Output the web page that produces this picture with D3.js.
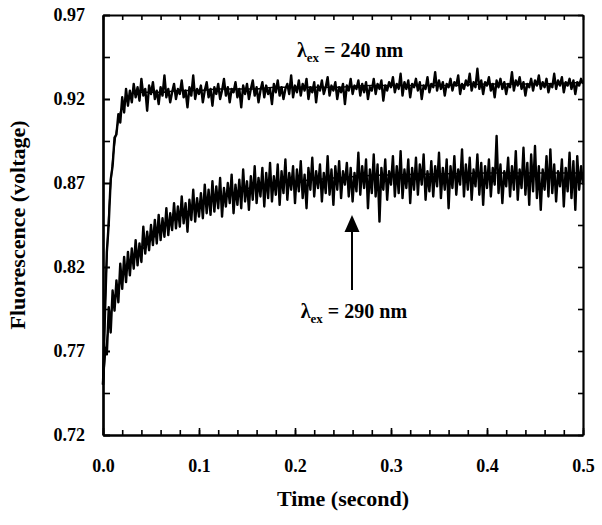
<!DOCTYPE html>
<html>
<head>
<meta charset="utf-8">
<script src="https://cdn.jsdelivr.net/npm/d3@7"></script>
<style>
  body { margin: 0; background: #fff; }
  svg { display: block; font-family: "Times New Roman", "Liberation Serif", serif; font-weight: bold; }
</style>
</head>
<body>
<script>
// sampling interval of the recorded traces (seconds)
const sampleStep = 0.002;

// λex = 240 nm trace, one value per sample
const trace240 = [
  .750,.791,.829,.846,.872,.880,.897,.899,.911,.906,
  .921,.912,.926,.916,.925,.918,.929,.921,.927,.919,
  .932,.922,.926,.913,.928,.923,.930,.920,.925,.917,
  .927,.922,.934,.921,.926,.918,.924,.929,.920,.926,
  .923,.931,.921,.925,.915,.927,.922,.934,.920,.926,
  .923,.928,.918,.925,.930,.921,.926,.916,.927,.923,
  .929,.920,.925,.932,.922,.927,.918,.926,.924,.930,
  .921,.926,.915,.928,.923,.929,.920,.926,.931,.922,
  .927,.918,.925,.930,.921,.928,.923,.926,.917,.929,
  .924,.931,.922,.927,.920,.926,.929,.923,.934,.921,
  .928,.924,.931,.922,.929,.925,.932,.920,.927,.924,
  .930,.918,.928,.925,.931,.923,.927,.933,.922,.928,
  .925,.930,.920,.927,.924,.929,.917,.928,.925,.932,
  .923,.928,.926,.931,.922,.929,.924,.930,.920,.927,
  .925,.932,.923,.929,.926,.931,.919,.928,.925,.930,
  .927,.933,.924,.929,.926,.935,.922,.930,.926,.931,
  .921,.929,.927,.932,.925,.930,.920,.928,.926,.933,
  .924,.929,.927,.936,.925,.931,.926,.930,.922,.929,
  .927,.932,.925,.930,.928,.934,.923,.929,.926,.931,
  .928,.935,.925,.930,.927,.938,.926,.931,.923,.930,
  .928,.933,.925,.929,.921,.931,.927,.932,.926,.930,
  .923,.929,.927,.936,.925,.931,.928,.933,.926,.930,
  .922,.929,.927,.932,.925,.931,.928,.934,.926,.930,
  .927,.932,.924,.929,.927,.935,.926,.931,.928,.933,
  .924,.930,.928,.932,.926,.931,.923,.930,.928,.932,
  .929
];

// λex = 290 nm trace, one value per sample
const trace290 = [
  .750,.772,.768,.796,.781,.806,.794,.812,.799,.822,
  .807,.826,.811,.829,.815,.831,.819,.836,.821,.834,
  .823,.844,.828,.841,.830,.845,.833,.848,.834,.851,
  .836,.849,.838,.855,.839,.852,.842,.858,.843,.856,
  .844,.862,.846,.858,.841,.860,.848,.866,.847,.861,
  .850,.864,.849,.869,.852,.866,.851,.871,.853,.868,
  .855,.873,.850,.867,.856,.870,.858,.875,.852,.869,
  .857,.872,.855,.878,.859,.871,.854,.874,.860,.880,
  .858,.873,.862,.879,.856,.876,.861,.882,.859,.874,
  .863,.881,.857,.877,.864,.884,.860,.876,.866,.880,
  .858,.878,.865,.883,.861,.875,.855,.879,.866,.885,
  .862,.877,.867,.881,.859,.876,.864,.886,.863,.878,
  .857,.880,.866,.883,.861,.877,.869,.882,.862,.879,
  .859,.876,.865,.888,.863,.880,.867,.884,.855,.878,
  .864,.887,.862,.881,.847,.879,.866,.884,.860,.877,
  .869,.886,.862,.880,.864,.889,.861,.878,.867,.884,
  .858,.879,.866,.885,.863,.881,.869,.887,.860,.877,
  .865,.883,.862,.880,.868,.888,.861,.879,.866,.884,
  .855,.880,.867,.886,.863,.878,.869,.890,.862,.881,
  .866,.885,.860,.878,.868,.887,.863,.882,.857,.880,
  .867,.884,.862,.879,.869,.898,.864,.881,.858,.877,
  .868,.885,.862,.880,.866,.889,.860,.878,.867,.891,
  .863,.882,.857,.887,.865,.892,.861,.880,.854,.878,
  .866,.886,.862,.890,.864,.881,.859,.877,.868,.884,
  .856,.879,.865,.888,.861,.883,.854,.886,.866,.880,
  .869
];

// fitted curves
const fitTimes = [0, .002, .004, .006, .008, .010, .012, .014, .016, .018, .020, .024, .028, .032,
  .04, .05, .06, .08, .10, .12, .14, .16, .18, .20, .24, .28, .32, .36, .40, .45, .50];
const fit240 = [.750, .794, .826, .851, .869, .883, .893, .901, .907, .912, .915, .919, .922, .924,
  .924, .924, .924, .925, .925, .926, .926, .926, .927, .927, .927, .928, .928, .928, .929, .929, .930];
const fit290 = [.750, .765, .776, .785, .792, .797, .802, .805, .808, .811, .814, .818, .822, .825,
  .830, .836, .842, .850, .857, .861, .865, .868, .870, .871, .873, .8745, .875, .8755, .876, .876, .876];

// axis ticks
const xMajorTicks = [0, 0.1, 0.2, 0.3, 0.4, 0.5];
const xMinorTicks = d3.range(0, 0.5001, 0.02);
const yMajorTicks = [0.72, 0.77, 0.82, 0.87, 0.92, 0.97];
const yMinorTicks = [0.72, 0.745, 0.77, 0.795, 0.82, 0.845, 0.87, 0.895, 0.92, 0.945, 0.97];

// annotations: [time, value]
const label240 = [0.202, 0.945];
const label290 = [0.206, 0.7896];
const arrowFrom = [0.2594, 0.8063];
const arrowTo = [0.2594, 0.851];

const width = 602, height = 525;
const margin = {top: 15, right: 19, bottom: 90, left: 103};

const svg = d3.select('body').append('svg')
  .attr('width', width)
  .attr('height', height);

const x = d3.scaleLinear().domain([0, 0.5]).range([margin.left, width - margin.right]);
const y = d3.scaleLinear().domain([0.72, 0.97]).range([height - margin.bottom, margin.top]);

function styleAxis(g) {
  g.select('.domain').attr('stroke', '#000').attr('stroke-width', 2.2);
  g.selectAll('.tick line').attr('stroke', '#000').attr('stroke-width', 1.6);
  g.selectAll('.tick text').attr('font-size', 18).attr('font-weight', 'bold').attr('fill', '#000')
    .attr('font-family', '"Times New Roman", "Liberation Serif", serif');
}

// minor ticks first, majors with labels on top
svg.append('g')
  .attr('transform', `translate(0,${y.range()[0]})`)
  .call(d3.axisBottom(x).tickValues(xMinorTicks).tickSizeInner(-5).tickSizeOuter(0).tickFormat(''))
  .call(styleAxis);
svg.append('g')
  .attr('transform', `translate(0,${y.range()[0]})`)
  .call(d3.axisBottom(x).tickValues(xMajorTicks).tickSizeInner(-7).tickSizeOuter(0)
    .tickPadding(24).tickFormat(d3.format('.1f')))
  .call(styleAxis);

svg.append('g')
  .attr('transform', `translate(0,${margin.top})`)
  .call(d3.axisTop(x).tickValues(xMinorTicks).tickSizeInner(-5).tickSizeOuter(0).tickFormat(''))
  .call(styleAxis);

svg.append('g')
  .attr('transform', `translate(${margin.left},0)`)
  .call(d3.axisLeft(y).tickValues(yMinorTicks).tickSizeInner(-7).tickSizeOuter(0).tickFormat(''))
  .call(styleAxis);
svg.append('g')
  .attr('transform', `translate(${margin.left},0)`)
  .call(d3.axisLeft(y).tickValues(yMajorTicks).tickSizeInner(-7).tickSizeOuter(0)
    .tickPadding(18).tickFormat(d3.format('.2f')))
  .call(styleAxis);

svg.append('g')
  .attr('transform', `translate(${width - margin.right},0)`)
  .call(d3.axisRight(y).tickValues(yMinorTicks).tickSizeInner(-5).tickSizeOuter(0).tickFormat(''))
  .call(styleAxis);

// traces
const traceLine = d3.line()
  .x((d, i) => x(i * sampleStep))
  .y(d => y(d));

svg.selectAll('path.trace')
  .data([trace240, trace290])
  .join('path')
  .attr('class', 'trace')
  .attr('d', traceLine)
  .attr('fill', 'none')
  .attr('stroke', '#000')
  .attr('stroke-width', 2.4)
  .attr('stroke-linejoin', 'round');

const fitLine = d3.line()
  .x((d, i) => x(fitTimes[i]))
  .y(d => y(d))
  .curve(d3.curveMonotoneX);

svg.selectAll('path.fit')
  .data([fit240, fit290])
  .join('path')
  .attr('class', 'fit')
  .attr('d', fitLine)
  .attr('fill', 'none')
  .attr('stroke', '#000')
  .attr('stroke-width', 1.5);

// labels
function lambdaLabel(pos, nm) {
  let t = svg.append('text')
    .attr('x', x(pos[0]))
    .attr('y', y(pos[1]))
    .attr('font-size', 20)
    .attr('fill', '#000');
  t.append('tspan').text('λ');
  t.append('tspan').attr('font-size', 13).attr('dy', 5).text('ex');
  t.append('tspan').attr('dy', -5).text(` = ${nm} nm`);
}
lambdaLabel(label240, 240);
lambdaLabel(label290, 290);

// arrow
svg.append('line')
  .attr('x1', x(arrowFrom[0])).attr('y1', y(arrowFrom[1]))
  .attr('x2', x(arrowTo[0])).attr('y2', y(arrowTo[1]) + 14)
  .attr('stroke', '#000')
  .attr('stroke-width', 2);
const ax = x(arrowTo[0]), ay = y(arrowTo[1]);
svg.append('path')
  .attr('d', `M${ax},${ay} L${ax - 7.5},${ay + 17} L${ax + 7.5},${ay + 17} Z`)
  .attr('fill', '#000');

// axis titles
svg.append('text')
  .attr('x', (x.range()[0] + x.range()[1]) / 2)
  .attr('y', 506)
  .attr('text-anchor', 'middle')
  .attr('font-size', 22)
  .attr('fill', '#000')
  .text('Time (second)');

svg.append('text')
  .attr('transform', `translate(25,${(y.range()[0] + y.range()[1]) / 2}) rotate(-90)`)
  .attr('text-anchor', 'middle')
  .attr('font-size', 22)
  .attr('fill', '#000')
  .text('Fluorescence (voltage)');
</script>
</body>
</html>
